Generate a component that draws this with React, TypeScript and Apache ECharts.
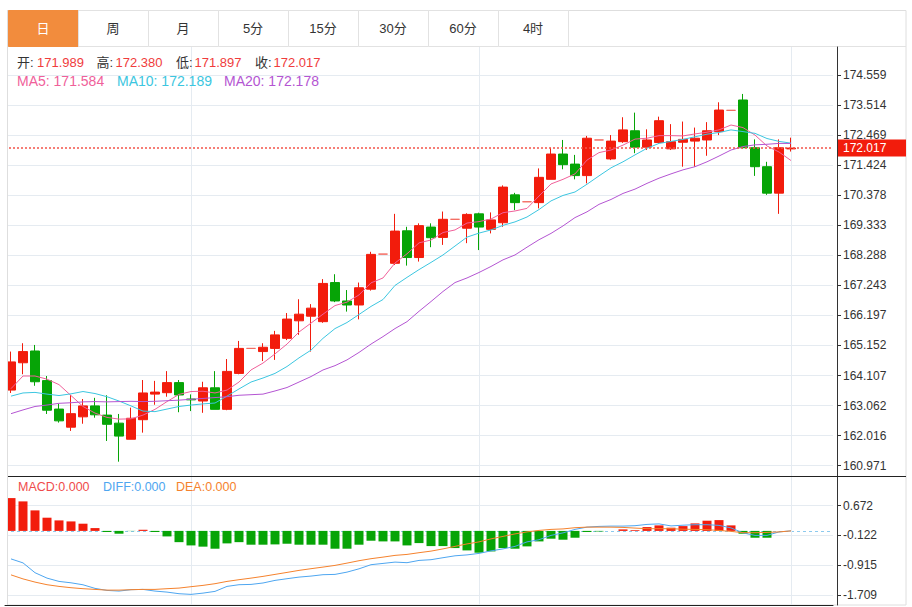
import React, { useEffect, useRef } from 'react';
import * as echarts from 'echarts';

const TABS = ['日', '周', '月', '5分', '15分', '30分', '60分', '4时'];

const OPEN = [163.60, 164.55, 164.96, 163.93, 162.94, 162.31, 162.67, 163.05, 162.73, 162.45,
  161.89, 162.57, 163.46, 163.51, 163.86, 163.29, 163.22, 163.68, 162.93, 164.18,
  165.05, 164.94, 165.05, 165.40, 166.01, 166.17, 165.98, 167.34, 166.70, 166.56,
  167.11, 168.33, 168.01, 169.14, 168.21, 169.27, 168.91, 169.54, 169.23, 169.73,
  169.19, 169.42, 170.39, 170.15, 170.12, 170.93, 171.81, 171.46, 171.06, 172.30,
  171.64, 172.24, 172.62, 172.05, 172.21, 171.99, 172.22, 172.26, 172.30, 172.59,
  173.33, 173.69, 172.03, 171.37, 170.45, 171.989];
const CLOSE = [164.58, 164.94, 163.89, 162.90, 162.53, 162.78, 163.05, 162.74, 162.41, 162.00,
  162.62, 163.50, 163.53, 163.86, 163.43, 163.26, 163.68, 162.93, 164.25, 165.05,
  165.05, 165.09, 165.52, 166.07, 166.24, 166.45, 167.31, 166.70, 166.56, 167.16,
  168.32, 168.33, 169.13, 168.21, 169.32, 168.90, 169.54, 169.54, 169.71, 169.27,
  169.52, 170.66, 170.12, 170.15, 171.00, 171.81, 171.44, 171.06, 172.36, 172.30,
  172.26, 172.65, 172.05, 172.30, 172.97, 172.24, 172.32, 172.36, 172.62, 173.34,
  173.33, 172.03, 171.37, 170.45, 172.03, 172.017];
const LOW = [163.50, 164.15, 163.75, 162.77, 162.47, 162.18, 162.43, 162.64, 161.83, 161.11,
  161.89, 162.12, 163.09, 163.37, 162.83, 162.87, 162.81, 162.93, 162.90, 164.15,
  165.05, 164.61, 164.65, 165.34, 165.52, 164.94, 165.94, 166.66, 166.33, 166.06,
  167.06, 168.33, 167.95, 167.93, 168.07, 168.57, 168.65, 169.54, 168.71, 168.47,
  169.05, 169.28, 169.86, 170.15, 169.92, 170.93, 171.28, 170.93, 170.79, 172.30,
  171.60, 172.20, 171.84, 171.95, 172.17, 171.95, 171.37, 171.37, 171.75, 172.47,
  173.33, 172.00, 171.05, 170.39, 169.73, 171.897];
const HIGH = [164.94, 165.23, 165.17, 164.09, 163.12, 163.43, 163.29, 163.33, 163.42, 162.77,
  162.99, 163.95, 163.92, 164.26, 163.95, 163.45, 163.89, 164.26, 164.68, 165.31,
  165.05, 165.23, 165.66, 166.28, 166.76, 166.59, 167.46, 167.63, 167.08, 167.34,
  168.41, 168.33, 169.73, 169.28, 169.40, 169.40, 169.81, 169.54, 169.75, 169.77,
  169.78, 170.72, 170.46, 170.15, 171.31, 172.03, 172.30, 171.78, 172.44, 172.30,
  172.47, 173.09, 173.25, 172.67, 173.11, 172.85, 172.94, 172.73, 172.92, 173.61,
  173.33, 173.90, 172.32, 171.54, 172.32, 172.380];

const MA5 = [163.65, 164.09, 164.09, 163.98, 163.79, 163.41, 163.03, 162.80, 162.65, 162.59,
  162.60, 162.73, 162.93, 163.20, 163.45, 163.55, 163.56, 163.50, 163.60, 163.88,
  164.30, 164.54, 164.86, 165.20, 165.62, 165.93, 166.24, 166.54, 166.66, 166.91,
  167.33, 167.50, 168.02, 168.34, 168.72, 168.82, 169.08, 169.17, 169.41, 169.46,
  169.55, 169.77, 169.83, 169.92, 170.35, 170.77, 170.93, 171.12, 171.60, 171.86,
  171.95, 172.12, 172.33, 172.36, 172.45, 172.45, 172.44, 172.51, 172.57, 172.65,
  172.82, 172.73, 172.47, 172.09, 171.88, 171.584];
const MA10 = [163.39, 163.50, 163.52, 163.46, 163.41, 163.47, 163.55, 163.48, 163.37, 163.22,
  163.05, 162.87, 162.85, 162.94, 163.03, 163.08, 163.12, 163.15, 163.39, 163.64,
  163.88, 164.02, 164.18, 164.42, 164.72, 164.99, 165.40, 165.74, 165.95, 166.23,
  166.51, 166.75, 167.24, 167.52, 167.79, 168.04, 168.30, 168.61, 168.92, 169.06,
  169.17, 169.33, 169.45, 169.62, 169.88, 170.18, 170.37, 170.49, 170.76, 171.05,
  171.33, 171.54, 171.78, 172.01, 172.18, 172.25, 172.32, 172.41, 172.50, 172.56,
  172.65, 172.59, 172.53, 172.35, 172.25, 172.189];
const MA20 = [162.78, 162.91, 163.03, 163.08, 163.14, 163.16, 163.19, 163.20, 163.19, 163.20,
  163.21, 163.20, 163.21, 163.23, 163.25, 163.28, 163.31, 163.34, 163.37, 163.42,
  163.44, 163.46, 163.57, 163.69, 163.88, 164.07, 164.30, 164.45, 164.65, 164.91,
  165.20, 165.46, 165.74, 165.98, 166.34, 166.68, 167.03, 167.34, 167.50, 167.69,
  167.90, 168.13, 168.30, 168.57, 168.83, 169.05, 169.31, 169.60, 169.80, 170.06,
  170.23, 170.44, 170.59, 170.79, 170.97, 171.12, 171.26, 171.37, 171.54, 171.74,
  171.95, 172.07, 172.13, 172.15, 172.18, 172.178];

const MACD = [0.875, 0.787, 0.547, 0.352, 0.28, 0.253, 0.192, 0.075, -0.03, -0.075,
  -0.005, 0.03, -0.03, -0.147, -0.30, -0.387, -0.42, -0.475, -0.333, -0.30,
  -0.368, -0.368, -0.36, -0.342, -0.368, -0.368, -0.368, -0.475, -0.475, -0.368,
  -0.262, -0.28, -0.28, -0.387, -0.325, -0.405, -0.405, -0.458, -0.52, -0.582,
  -0.547, -0.458, -0.475, -0.413, -0.28, -0.208, -0.235, -0.182, -0.03, -0.015,
  0, 0.04, 0.02, 0.102, 0.147, 0.085, 0.128, 0.2, 0.272, 0.288,
  0.147, -0.075, -0.182, -0.182, 0, 0];
const DIFF = [-0.747, -0.853, -1.115, -1.259, -1.347, -1.384, -1.437, -1.533, -1.587, -1.605,
  -1.568, -1.56, -1.605, -1.632, -1.675, -1.693, -1.659, -1.613, -1.48, -1.435,
  -1.427, -1.389, -1.32, -1.275, -1.232, -1.205, -1.168, -1.16, -1.099, -1.011,
  -0.901, -0.867, -0.832, -0.848, -0.787, -0.768, -0.715, -0.664, -0.64, -0.6,
  -0.533, -0.48, -0.413, -0.293, -0.235, -0.12, -0.053, 0.04, 0.101, 0.12,
  0.128, 0.128, 0.139, 0.173, 0.187, 0.133, 0.152, 0.165, 0.165, 0.147,
  0.08, -0.053, -0.12, -0.12, -0.027, 0];
const DEA = [-1.173, -1.28, -1.365, -1.435, -1.48, -1.515, -1.541, -1.56, -1.579, -1.579,
  -1.568, -1.56, -1.56, -1.541, -1.525, -1.488, -1.453, -1.408, -1.347, -1.301,
  -1.259, -1.213, -1.16, -1.107, -1.053, -1.008, -0.965, -0.92, -0.859, -0.795,
  -0.741, -0.699, -0.653, -0.627, -0.581, -0.539, -0.48, -0.413, -0.347, -0.293,
  -0.213, -0.147, -0.08, -0.027, 0.013, 0.04, 0.053, 0.085, 0.101, 0.101,
  0.1, 0.093, 0.075, 0.059, 0.059, 0.059, 0.045, 0.04, 0.032, 0.013,
  -0.013, -0.048, -0.048, -0.04, -0.027, 0];

const PRICE_TICKS = [160.971, 162.016, 163.062, 164.107, 165.152, 166.197, 167.243,
  168.288, 169.333, 170.378, 171.424, 172.469, 173.514, 174.559];
const MACD_TICKS = [-1.709, -0.915, -0.122, 0.672];
const PRICE_RANGE = [160.612, 175.533];
const MACD_RANGE = [-1.976, 1.464];
const SLOT_COUNT = 69;
const MARK_INDICES = [15, 39, 65];

const UP = '#f21c0c';
const DOWN = '#06a406';
const DOJI = '#f36a60';
const GRID_LINE = '#e5ebf1';
const FONT = "'Liberation Sans', Arial, 'Noto Sans CJK SC', sans-serif";

function buildOption() {
  const last = OPEN.length - 1;
  const categories = Array.from({ length: SLOT_COUNT }, (_, i) => String(i + 1));
  const candles = OPEN.map((o, i) => [o, CLOSE[i], LOW[i], HIGH[i]]);
  const macdBars = MACD.map((v) => ({ value: v, itemStyle: { color: v >= 0 ? UP : DOWN } }));
  const vLines = MARK_INDICES.map((i) => ({ xAxis: i }));

  const g: any[] = [];
  g.push({ type: 'rect', z: 0, silent: true, shape: { x: 7.5, y: 10.5, width: 898.5, height: 594.5 }, style: { fill: 'none', stroke: '#dedede', lineWidth: 1 } });
  // left edge cover (clips the partially visible first bar like the reference)
  g.push({ type: 'rect', z: 40, silent: true, shape: { x: 0, y: 47, width: 7.5, height: 558 }, style: { fill: '#fff' } });
  g.push({ type: 'line', z: 41, silent: true, shape: { x1: 7.5, y1: 10, x2: 7.5, y2: 605 }, style: { stroke: '#dedede', lineWidth: 1 } });
  g.push({ type: 'line', z: 0, silent: true, shape: { x1: 8, y1: 46.5, x2: 906, y2: 46.5 }, style: { stroke: '#e2e2e2', lineWidth: 1 } });
  TABS.forEach((t, i) => {
    const x = 8 + 70 * i;
    g.push({ type: 'rect', z: 1, silent: true, shape: { x: x + 0.5, y: 10.5, width: 70, height: 36 }, style: { fill: i === 0 ? '#f28c3d' : '#fff', stroke: i === 0 ? '#f28c3d' : '#e2e2e2', lineWidth: 1 } });
    g.push({ type: 'text', z: 2, silent: true, x: x + 35, y: 28.5, style: { text: t, fill: i === 0 ? '#fff' : '#333', fontSize: 13, fontFamily: FONT, align: 'center', verticalAlign: 'middle' } });
  });
  g.push({ type: 'line', z: 50, silent: true, shape: { x1: 8, y1: 476.5, x2: 906, y2: 476.5 }, style: { stroke: '#222', lineWidth: 1 } });

  const ohlc: [string, number[], number, number][] = [
    ['开:', OPEN, 17, 37], ['高:', HIGH, 96.5, 115.5], ['低:', LOW, 176, 194.5], ['收:', CLOSE, 255, 273.5],
  ];
  ohlc.forEach(([label, arr, lx, vx]) => {
    g.push({ type: 'text', z: 60, silent: true, x: lx, y: 62.5, style: { text: label, fill: '#333', fontSize: 13, fontFamily: FONT, verticalAlign: 'middle' } });
    g.push({ type: 'text', z: 60, silent: true, x: vx, y: 62.5, style: { text: arr[last].toFixed(3), fill: '#f03c3c', fontSize: 13, fontFamily: FONT, verticalAlign: 'middle' } });
  });
  const maRow: [string, number[], number, string][] = [
    ['MA5', MA5, 17, '#f0609a'], ['MA10', MA10, 117, '#3cc6e0'], ['MA20', MA20, 224, '#b455d2'],
  ];
  maRow.forEach(([label, arr, x, color]) => {
    g.push({ type: 'text', z: 60, silent: true, x, y: 81, style: { text: `${label}: ${arr[last].toFixed(3)}`, fill: color, fontSize: 14, fontFamily: FONT, verticalAlign: 'middle' } });
  });
  const macdRow: [string, number[], number, string][] = [
    ['MACD', MACD, 18, '#ef4b4b'], ['DIFF', DIFF, 103, '#4ea6f0'], ['DEA', DEA, 176, '#f5822d'],
  ];
  macdRow.forEach(([label, arr, x, color]) => {
    g.push({ type: 'text', z: 60, silent: true, x, y: 487, style: { text: `${label}:${arr[last].toFixed(3)}`, fill: color, fontSize: 12.5, fontFamily: FONT, verticalAlign: 'middle' } });
  });

  const baseX = {
    type: 'category', data: categories, boundaryGap: true,
    axisTick: { show: false }, axisLabel: { show: false }, splitLine: { show: false },
  };
  const yCommon = (ticks: number[], range: number[], gridIndex: number) => ({
    type: 'value', gridIndex, position: 'right', offset: 4, min: range[0], max: range[1],
    axisLine: { show: true, lineStyle: { color: '#333' } },
    axisTick: { show: true, length: 4, lineStyle: { color: '#333' }, customValues: ticks },
    axisLabel: { customValues: ticks, formatter: (v: number) => Number(v).toFixed(3), color: '#333', fontSize: 12, fontFamily: FONT, margin: 6 },
    splitLine: { show: true, lineStyle: { color: GRID_LINE, width: 1 } },
  });

  return {
    animation: false,
    backgroundColor: '#fff',
    grid: [
      { left: 5, right: 79, top: 47, bottom: 131 },
      { left: 5, right: 79, top: 476, bottom: 2 },
    ],
    xAxis: [
      { ...baseX, gridIndex: 0, axisLine: { show: false } },
      { ...baseX, gridIndex: 1, axisLine: { show: true, onZero: false, lineStyle: { color: '#222' } } },
    ],
    yAxis: [yCommon(PRICE_TICKS, PRICE_RANGE, 0), yCommon(MACD_TICKS, MACD_RANGE, 1)],
    graphic: { elements: g },
    series: [
      {
        type: 'candlestick', name: 'K', xAxisIndex: 0, yAxisIndex: 0, data: candles, barWidth: 9, clip: false,
        itemStyle: { color: UP, color0: DOWN, borderColor: UP, borderColor0: DOWN, borderColorDoji: DOJI, borderWidth: 1 },
        markLine: {
          silent: true, symbol: 'none', animation: false,
          data: [{
            yAxis: CLOSE[last],
            lineStyle: { type: [2, 2], color: '#f4544a', width: 1.5 },
            label: {
              show: true, position: 'end', distance: 5, formatter: CLOSE[last].toFixed(3),
              color: '#fff', backgroundColor: UP, padding: [3, 5, 2, 5], width: 58,
              fontSize: 12, fontFamily: FONT, lineHeight: 12,
            },
          }],
        },
      },
      { type: 'line', name: 'MA5', xAxisIndex: 0, yAxisIndex: 0, data: MA5, symbol: 'none', color: '#f0609a', lineStyle: { width: 1, color: '#f0609a' } },
      { type: 'line', name: 'MA10', xAxisIndex: 0, yAxisIndex: 0, data: MA10, symbol: 'none', color: '#3cc6e0', lineStyle: { width: 1, color: '#3cc6e0' } },
      {
        type: 'line', name: 'MA20', xAxisIndex: 0, yAxisIndex: 0, data: MA20, symbol: 'none', color: '#b455d2', lineStyle: { width: 1, color: '#b455d2' },
        markLine: { silent: true, z: 1, symbol: 'none', animation: false, label: { show: false }, lineStyle: { type: 'solid', color: GRID_LINE, width: 1 }, data: vLines },
      },
      { type: 'bar', name: 'MACD', xAxisIndex: 1, yAxisIndex: 1, data: macdBars, barWidth: 9 },
      { type: 'line', name: 'DIFF', xAxisIndex: 1, yAxisIndex: 1, data: DIFF, symbol: 'none', color: '#4ea6f0', lineStyle: { width: 1, color: '#4ea6f0' } },
      {
        type: 'line', name: 'DEA', xAxisIndex: 1, yAxisIndex: 1, data: DEA, symbol: 'none', color: '#f5822d', lineStyle: { width: 1, color: '#f5822d' },
        markLine: {
          silent: true, z: 1, symbol: 'none', animation: false, label: { show: false },
          lineStyle: { type: 'solid', color: GRID_LINE, width: 1 },
          data: [{ yAxis: 0, lineStyle: { type: [3, 3], color: '#8ccaee', width: 1 } }, ...vLines],
        },
      },
    ],
  };
}

export default function App() {
  const ref = useRef<HTMLDivElement>(null);
  useEffect(() => {
    if (!ref.current) return;
    const chart = echarts.init(ref.current, null, { renderer: 'svg' });
    chart.setOption(buildOption() as any);
    return () => chart.dispose();
  }, []);
  return <div ref={ref} style={{ position: 'absolute', left: 0, top: 0, width: 912, height: 607, background: '#fff' }} />;
}
